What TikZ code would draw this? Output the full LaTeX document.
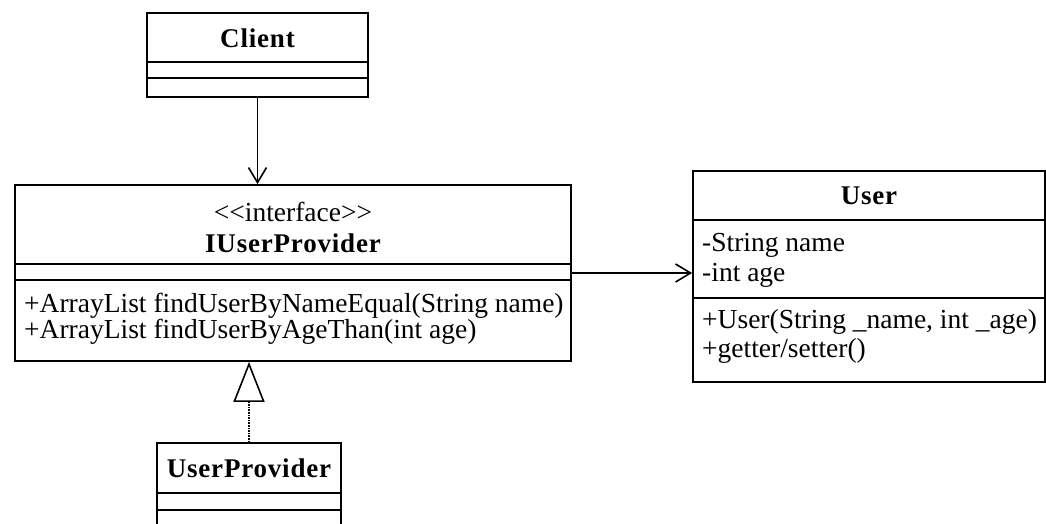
\documentclass[tikz,border=0pt]{standalone}
\usepackage{fontspec}
\setmainfont{Liberation Serif}
\newfontfamily\hdrfont[LetterSpace=3]{Liberation Serif}
\usetikzlibrary{arrows.meta}
\begin{document}
\begin{tikzpicture}[x=1pt,y=-1pt,
  every node/.style={font=\fontsize{27.5}{29}\selectfont},
  umlbox/.style={draw, line width=1.8pt, rectangle, inner sep=0pt, fill=none},
  hdr/.style={font=\fontsize{27}{29}\selectfont\hdrfont\bfseries, inner sep=0pt},
  txt/.style={anchor=west, inner sep=0pt},
  cline/.style={line width=1.8pt},
  conn/.style={line width=1.6pt}
]
\clip (0,0) rectangle (1046,524);
\fill[white] (0,0) rectangle (1046,524);

% Client
\node[umlbox, minimum width=221pt, minimum height=84pt] (client) at (257.5,55) {};
\node[hdr] (clientname) at (257.5,38) {Client};
\draw[cline] (client.west |- 0,62) -- (client.east |- 0,62);
\draw[cline] (client.west |- 0,78) -- (client.east |- 0,78);

% IUserProvider
\node[umlbox, minimum width=556pt, minimum height=176pt] (iup) at (293,273) {};
\node[inner sep=0pt] (stereo) at (293,212) {<{}<interface>{}>};
\node[hdr] (iupname) at (293,243) {IUserProvider};
\draw[cline] (iup.west |- 0,264) -- (iup.east |- 0,264);
\draw[cline] (iup.west |- 0,280) -- (iup.east |- 0,280);
\node[txt] (m1) at (24,306) {+ArrayList findUserByNameEqual(String name)};
\node[txt] (m2) at (24,332) {+ArrayList findUserByAgeThan(int age)};

% User
\node[umlbox, minimum width=352pt, minimum height=211pt] (user) at (869,276.5) {};
\node[hdr] (username) at (869,196) {User};
\draw[cline] (user.west |- 0,220) -- (user.east |- 0,220);
\draw[cline] (user.west |- 0,298) -- (user.east |- 0,298);
\node[txt] (a1) at (702,245) {-String name};
\node[txt] (a2) at (702,275) {-int age};
\node[txt] (u1) at (702,322) {+User(String \_name, int \_age)};
\node[txt] (u2) at (702,351) {+getter/setter()};

% UserProvider
\node[umlbox, minimum width=184pt, minimum height=117pt] (up) at (249,501.5) {};
\node[hdr] (upname) at (249,468) {UserProvider};
\draw[cline] (up.west |- 0,493) -- (up.east |- 0,493);
\draw[cline] (up.west |- 0,510) -- (up.east |- 0,510);

% connectors
\draw[conn, -{Straight Barb[length=15pt, width=18pt, line width=1.6pt]}]
  (client.south) -- (client.south |- iup.north);
\draw[conn, -{Straight Barb[length=15pt, width=18pt, line width=1.6pt]}]
  (iup.east) -- (iup.east -| user.west);
\draw[conn, densely dotted, -{Triangle[open, length=40pt, width=31pt, line width=1.6pt]}]
  (up.north) -- (up.north |- iup.south);
\end{tikzpicture}
\end{document}
